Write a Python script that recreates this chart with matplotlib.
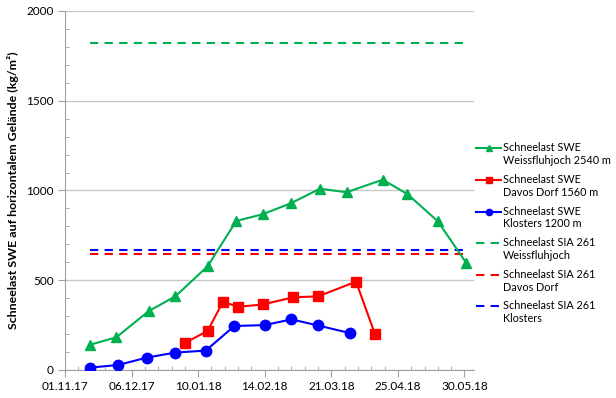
import matplotlib
matplotlib.use("Agg")
import matplotlib.pyplot as plt
from matplotlib.ticker import MultipleLocator
from matplotlib.legend_handler import HandlerLine2D
import datetime as dt

plt.rcParams['font.family'] = ['Lato', 'DejaVu Sans']

# Data
weiss_dates = ["14.11.17", "28.11.17", "15.12.17", "29.12.17", "15.01.18", "30.01.18", "13.02.18",
               "28.02.18", "15.03.18", "29.03.18", "17.04.18", "30.04.18", "16.05.18", "31.05.18"]
weiss_swe = [140, 182, 328, 410, 578, 830, 868, 930, 1010, 990, 1060, 980, 828, 595]

davos_dates = ["03.01.18", "15.01.18", "23.01.18", "31.01.18", "13.02.18", "01.03.18", "14.03.18",
               "03.04.18", "13.04.18"]
davos_swe = [150, 218, 380, 352, 365, 405, 410, 492, 198]

klosters_dates = ["14.11.17", "29.11.17", "14.12.17", "29.12.17", "14.01.18", "29.01.18", "14.02.18",
                  "28.02.18", "14.03.18", "31.03.18"]
klosters_swe = [13, 28, 69, 97, 108, 245, 250, 282, 248, 205]

sia_start, sia_end = "14.11.17", "31.05.18"
sia_weiss = 1820
sia_davos = 645
sia_klosters = 670

xtick_labels = ["01.11.17", "06.12.17", "10.01.18", "14.02.18", "21.03.18", "25.04.18", "30.05.18"]

def d(s):
    return dt.datetime.strptime(s, "%d.%m.%y")

green = "#00B050"
red = "#FF0000"
blue = "#0000FF"


class FirstLineHandler(HandlerLine2D):
    """Align legend handle with the first line of a two-line label."""
    def create_artists(self, legend, orig_handle, xdescent, ydescent, width, height, fontsize, trans):
        arts = super().create_artists(legend, orig_handle, xdescent, ydescent, width, height, fontsize, trans)
        for a in arts:
            a.set_ydata([y + 0.6 * fontsize for y in a.get_ydata()])
        return arts


fig = plt.figure(figsize=(6.16, 3.98), dpi=100)
ax = fig.add_axes([0.1055, 0.0704, 0.664, 0.902])

ax.plot([d(s) for s in weiss_dates], weiss_swe, color=green, marker="^", markersize=7.5, lw=1.5,
        label="Schneelast SWE\nWeissfluhjoch 2540 m", zorder=3)
ax.plot([d(s) for s in davos_dates], davos_swe, color=red, marker="s", markersize=6.5, lw=1.5,
        label="Schneelast SWE\nDavos Dorf 1560 m", zorder=3)
ax.plot([d(s) for s in klosters_dates], klosters_swe, color=blue, marker="o", markersize=7.5, lw=1.5,
        label="Schneelast SWE\nKlosters 1200 m", zorder=3)

xs = [d(sia_start), d(sia_end)]
ax.plot(xs, [sia_weiss] * 2, color=green, ls=(0, (4, 3)), lw=1.5, label="Schneelast SIA 261\nWeissfluhjoch")
ax.plot(xs, [sia_davos] * 2, color=red, ls=(0, (4, 3)), lw=1.5, label="Schneelast SIA 261\nDavos Dorf")
ax.plot(xs, [sia_klosters] * 2, color=blue, ls=(0, (4, 3)), lw=1.5, label="Schneelast SIA 261\nKlosters")

ax.set_xlim(d("01.11.17"), d("04.06.18"))
ax.set_ylim(0, 2000)
ax.set_xticks([d(s) for s in xtick_labels])
ax.set_xticklabels(xtick_labels)
minor = [d("01.11.17") + dt.timedelta(days=7 * i) for i in range(0, 31)]
ax.set_xticks(minor, minor=True)
ax.yaxis.set_major_locator(MultipleLocator(500))
ax.yaxis.set_minor_locator(MultipleLocator(100))

ax.grid(axis="y", which="major", color="#C8C8C8", lw=1)
ax.set_axisbelow(True)
for s in ["top", "right"]:
    ax.spines[s].set_visible(False)
for s in ["left", "bottom"]:
    ax.spines[s].set_color("#A0A0A0")

ax.tick_params(axis="both", which="major", direction="out", length=5, color="#A0A0A0", labelsize=8.5, pad=3)
ax.tick_params(axis="both", which="minor", direction="in", length=3, color="#A0A0A0")

ax.set_ylabel("Schneelast SWE auf horizontalem Gelände (kg/m²)", fontsize=8.9, fontweight="bold", labelpad=5)

handles, labels = ax.get_legend_handles_labels()
ax.legend(handles, labels, loc="upper left", bbox_to_anchor=(1.0, 0.64), frameon=False, fontsize=7.8,
          handlelength=2.3, handletextpad=0.15, labelspacing=0.72, borderaxespad=0.0, borderpad=0.2,
          markerscale=0.6, handler_map={h: FirstLineHandler() for h in handles})

fig.savefig("out.png", dpi=100)
